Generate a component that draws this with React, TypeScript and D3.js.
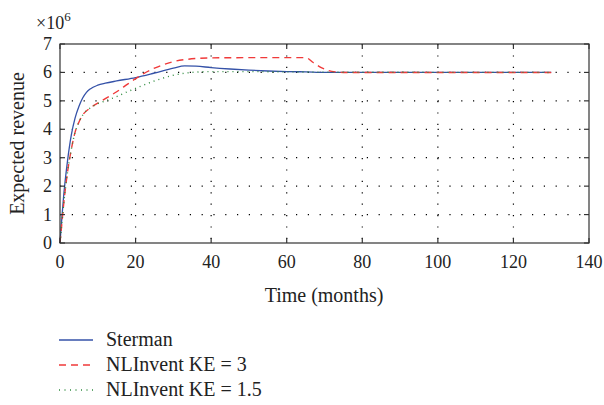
import React from "react";
import * as d3 from "d3";

const sterT = [0, 0.5, 1, 2, 3, 4, 5, 6, 7, 8, 10, 12, 15, 20, 25, 30, 33, 36, 40, 45, 50, 55, 60, 65, 70, 80, 130];
const sterV = [0, 0.9, 1.7, 2.9, 3.8, 4.4, 4.8, 5.1, 5.3, 5.42, 5.55, 5.62, 5.7, 5.82, 5.98, 6.15, 6.23, 6.22, 6.17, 6.12, 6.08, 6.05, 6.03, 6.02, 6.0, 6.0, 6.0];

const ke3T = [0, 0.5, 1, 2, 3, 4, 5, 6, 8, 10, 12, 15, 18, 20, 22, 25, 28, 30, 33, 36, 40, 50, 60, 65, 67, 69, 71, 73, 75, 80, 130];
const ke3V = [0, 0.7, 1.4, 2.5, 3.3, 3.9, 4.25, 4.5, 4.75, 4.92, 5.08, 5.32, 5.6, 5.78, 5.95, 6.15, 6.3, 6.38, 6.45, 6.49, 6.51, 6.52, 6.52, 6.52, 6.35, 6.18, 6.07, 6.02, 6.0, 6.0, 6.0];

const ke15T = [0, 0.5, 1, 2, 3, 4, 5, 6, 8, 10, 12, 15, 18, 20, 25, 30, 35, 40, 50, 60, 70, 130];
const ke15V = [0, 0.7, 1.4, 2.5, 3.3, 3.9, 4.25, 4.5, 4.75, 4.9, 5.0, 5.15, 5.33, 5.44, 5.7, 5.9, 6.0, 6.03, 6.03, 6.02, 6.01, 6.0];

const xTicks = [0, 20, 40, 60, 80, 100, 120, 140];
const yTicks = [0, 1, 2, 3, 4, 5, 6, 7];
const legendLabels = ["Sterman", "NLInvent KE = 3", "NLInvent KE = 1.5"];

const FONT = "'Liberation Serif', 'DejaVu Serif', serif";

export default function App() {
  const W = 604, H = 405;
  const L = 60, R = 589, T = 44, B = 243;
  const x = d3.scaleLinear().domain([0, 140]).range([L, R]);
  const y = d3.scaleLinear().domain([0, 7]).range([B, T]);
  const line = (ts: number[], vs: number[]) =>
    d3.line<number>().x((_, i) => x(ts[i])).y((v) => y(v)).curve(d3.curveMonotoneX)(vs) || "";

  const series = [
    { t: sterT, v: sterV, color: "#3552a8", dash: "none", w: 1.3 },
    { t: ke3T, v: ke3V, color: "#f03a3a", dash: "7,5", w: 1.4 },
    { t: ke15T, v: ke15V, color: "#2e8b3e", dash: "1,4", w: 1.4 },
  ];

  return (
    <svg width={W} height={H} style={{ position: "absolute", left: 0, top: 0 }}>
      <rect width={W} height={H} fill="#fff" />
      {xTicks.slice(1, -1).map((t) => (
        <line key={"gx" + t} x1={x(t)} x2={x(t)} y1={T} y2={B} stroke="#000" strokeWidth={1.2} strokeDasharray="1.2,10.2" />
      ))}
      {yTicks.slice(1, -1).map((t) => (
        <line key={"gy" + t} x1={L} x2={R} y1={y(t)} y2={y(t)} stroke="#000" strokeWidth={1.2} strokeDasharray="1.2,10.6" />
      ))}
      {series.map((s, i) => (
        <path key={i} d={line(s.t, s.v)} fill="none" stroke={s.color} strokeWidth={s.w} strokeDasharray={s.dash} />
      ))}
      <rect x={L} y={T} width={R - L} height={B - T} fill="none" stroke="#333" strokeWidth={1.2} />
      {xTicks.map((t) => (
        <g key={"tx" + t}>
          <line x1={x(t)} x2={x(t)} y1={B} y2={B - 5} stroke="#333" strokeWidth={1.2} />
          <line x1={x(t)} x2={x(t)} y1={T} y2={T + 5} stroke="#333" strokeWidth={1.2} />
          <text x={x(t)} y={B + 25} textAnchor="middle" fontFamily={FONT} fontSize={18} fill="#222">{t}</text>
        </g>
      ))}
      {yTicks.map((t) => (
        <g key={"ty" + t}>
          <line x1={L} x2={L + 5} y1={y(t)} y2={y(t)} stroke="#333" strokeWidth={1.2} />
          <line x1={R} x2={R - 5} y1={y(t)} y2={y(t)} stroke="#333" strokeWidth={1.2} />
          <text x={L - 8} y={y(t) + 6} textAnchor="end" fontFamily={FONT} fontSize={18} fill="#222">{t}</text>
        </g>
      ))}
      <text x={36} y={29} fontFamily={FONT} fontSize={18} fill="#222">
        ×10<tspan dy={-8} fontSize={13}>6</tspan>
      </text>
      <text x={324} y={302} textAnchor="middle" fontFamily={FONT} fontSize={20} fill="#222">Time (months)</text>
      <text transform={`translate(24,${(T + B) / 2}) rotate(-90)`} textAnchor="middle" fontFamily={FONT} fontSize={20} fill="#222">Expected revenue</text>
      {series.map((s, i) => (
        <g key={"lg" + i}>
          <line x1={59} x2={93} y1={340 + i * 25} y2={340 + i * 25} stroke={s.color} strokeWidth={s.w} strokeDasharray={s.dash === "1,4" ? "1,4.5" : s.dash} />
          <text x={106} y={340 + i * 25 + 6} fontFamily={FONT} fontSize={20} fill="#222">{legendLabels[i]}</text>
        </g>
      ))}
    </svg>
  );
}
